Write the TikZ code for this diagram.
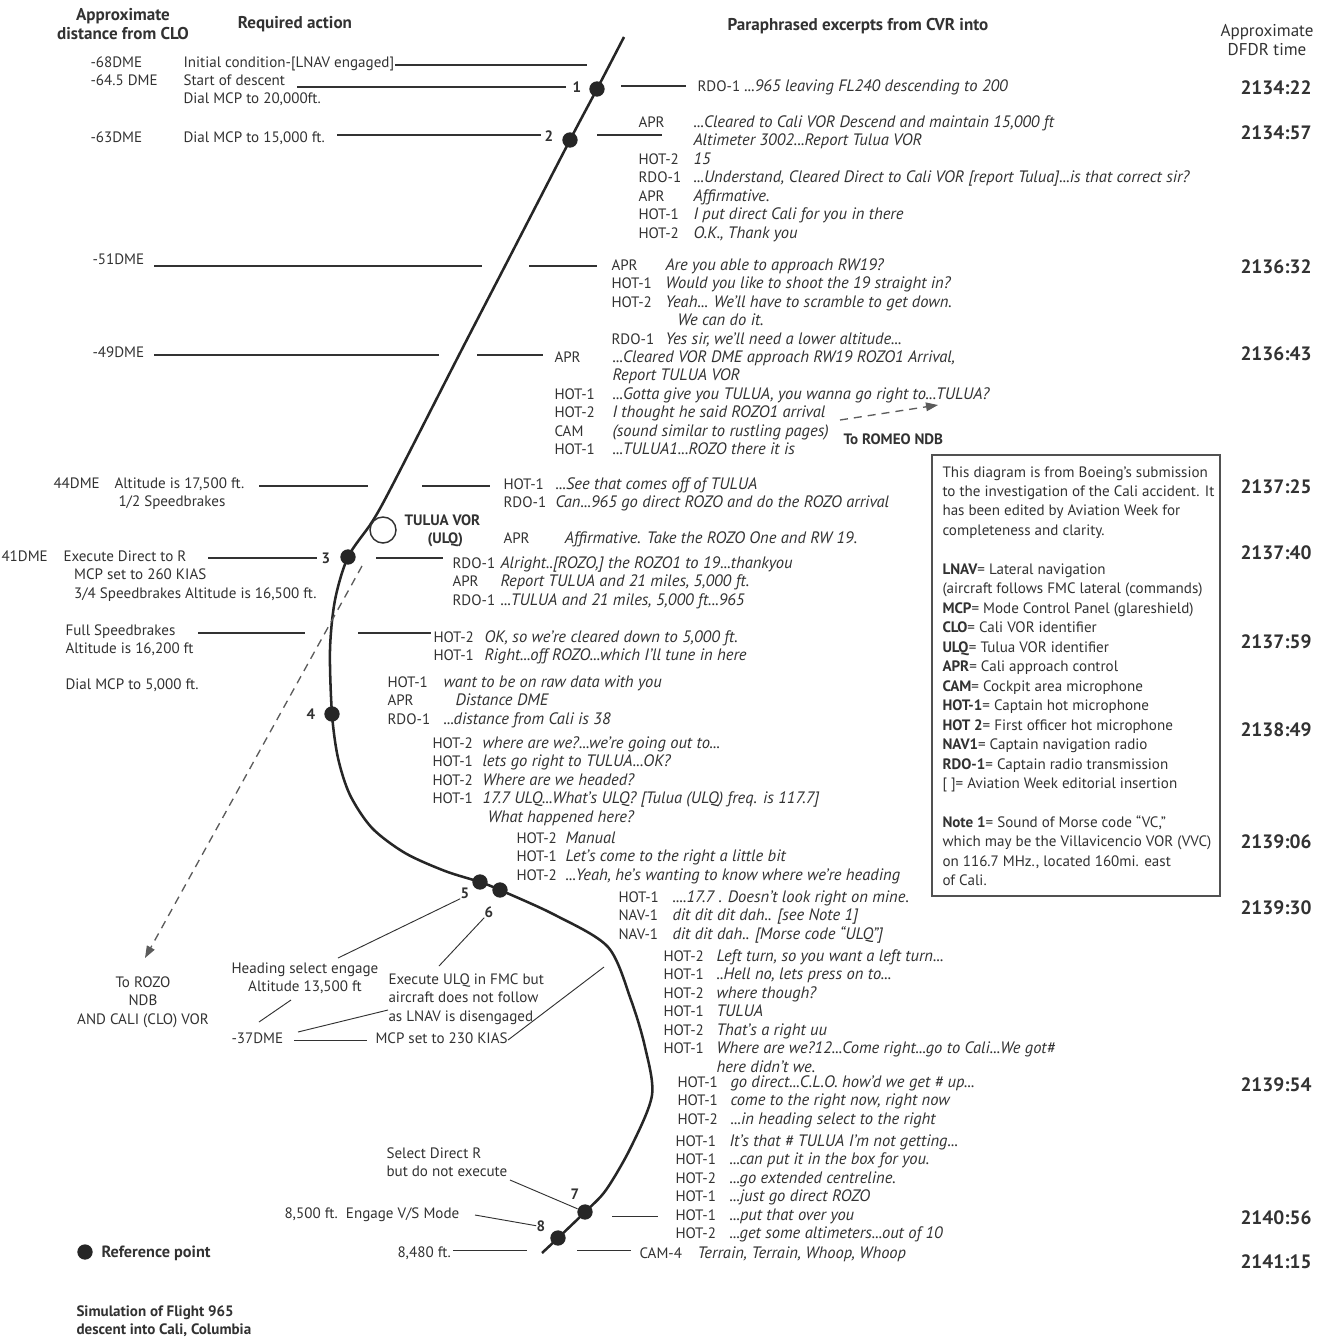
\documentclass[tikz,border=0pt]{standalone}
\usepackage{fontspec}
\usepackage{array}
\setmainfont{PT Sans}
\usetikzlibrary{arrows.meta}

\definecolor{ink}{RGB}{50,50,50}
\newcommand{\txtsize}{\fontsize{11.3}{13.9}\selectfont}
\newcommand{\qsize}{\fontsize{12.4}{13.9}\selectfont}
\newcommand{\headsize}{\fontsize{12.8}{14.4}\selectfont}
\newcommand{\boxsize}{\fontsize{11.3}{14.6}\selectfont}
\newcommand{\timesize}{\fontsize{14.5}{16}\selectfont}
\newcommand{\cvrblock}[2]{\begin{tabular}[t]{@{}p{#1}@{}>{\qsize\itshape}l@{}}#2\end{tabular}}
\newcommand{\lines}[1]{\begin{tabular}[t]{@{}l@{}}#1\end{tabular}}
\newcommand{\clines}[1]{\begin{tabular}[t]{@{}c@{}}#1\end{tabular}}

\tikzset{every picture/.style={line width=0.75pt}}

\begin{document}
\begin{tikzpicture}[x=0.75pt,y=0.75pt,yscale=-1,xscale=1,
  txt/.style={anchor=base west, inner sep=0pt, text=ink, font=\txtsize},
  ctxt/.style={anchor=base, inner sep=0pt, text=ink, font=\txtsize},
  head/.style={anchor=base, inner sep=0pt, text=ink, font=\headsize\bfseries},
  tstamp/.style={anchor=base, inner sep=0pt, text=ink, font=\timesize\bfseries},
  ptnum/.style={anchor=base, inner sep=0pt, text=ink, font=\txtsize\bfseries},
  lead/.style={draw=ink, line width=1.3pt},
  thin/.style={draw=ink, line width=0.7pt},
  flightpath/.style={draw=black!85, line width=1.9pt},
  refdot/.style={circle, fill=black!85, inner sep=0pt, minimum size=11.5pt},
  toward/.style={draw=ink!80, line width=1pt, dash pattern={on 6pt off 4.5pt}, -{Triangle[length=9pt,width=6.5pt]}},
]
\useasboundingbox (0,0) rectangle (1330,1339);

% headings
\node[head] (hdist) at (123,20) {\clines{Approximate\\distance from CLO}};
\node[head] (hact) at (295,28) {Required action};
\node[head] (hcvr) at (858,30) {Paraphrased excerpts from CVR into};
\node[ctxt, font=\headsize] (hdfdr) at (1267,36) {\clines{Approximate\\DFDR time}};

% flight path and reference points
\coordinate (top) at (624,37);
\coordinate (p1) at (597,89);
\coordinate (p2) at (570,140);
\coordinate (p3) at (348,557);
\coordinate (p4) at (332,714);
\coordinate (p5) at (480,882);
\coordinate (p6) at (500,890);
\coordinate (p7) at (585,1212);
\coordinate (p8) at (558,1238);
\coordinate (bottom) at (542,1253);
\draw[flightpath] plot[smooth, tension=0.5] coordinates {(top) (p1) (p2) (505,266) (459,355) (392,486) (372,522) (p3) (335,600) (330,650) (p4) (338,758) (350,795) (372,828) (405,853) (445,871) (p5) (p6) (555,915) (608,947) (631,1000) (645,1047) (652,1095) (631,1147) (606,1190) (p7) (p8) (bottom)};
\foreach \i in {1,...,8}
  \node[refdot] (dot\i) at (p\i) {};

% point numbers
\node[ptnum] (n1) at (577,92) {1};
\node[ptnum] (n2) at (549,141) {2};
\node[ptnum] (n3) at (326,563) {3};
\node[ptnum] (n4) at (311,719) {4};
\node[ptnum] (n5) at (465,898) {5};
\node[ptnum] (n6) at (489,917) {6};
\node[ptnum] (n7) at (575,1199) {7};
\node[ptnum] (n8) at (541,1231) {8};

% TULUA VOR
\node[circle, draw=ink, line width=1.1pt, minimum size=19.5pt, inner sep=0pt] (ulq) at (383,530) {};
\node[txt, font=\txtsize\bfseries] (ulqname) at (404,525) {TULUA VOR};
\node[txt, font=\txtsize\bfseries] (ulqid) at (427,543) {(ULQ)};

% leader lines
\foreach \nm/\xa/\xb/\y in {la/395/587/65, lb/297/566/87, lc/337/541/135, ld/154/482/266,
    le/529/597/266, lf/154/439/355, lg/477/543/355, lh/259/368/486, li/422/490/486,
    lj/208/317/558, lk/376/443/558, ll/198/305/633, lm/358/431/633, ln/621/686/86, lo/597/662/135}
  \draw[lead] (\xa,\y) coordinate (\nm a) -- (\xb,\y) coordinate (\nm b);
\foreach \nm/\xa/\xb/\y in {lp/612/658/1216, lq/577/631/1250, lr/453/527/1250, ls/294/367/1040}
  \draw[thin] (\xa,\y) coordinate (\nm a) -- (\xb,\y) coordinate (\nm b);

% required actions
\node[txt] (d68) at (90,67) {-68DME};
\node[txt] (a68) at (183,67) {Initial condition-[LNAV engaged]};
\node[txt] (d645) at (90,85) {-64.5 DME};
\node[txt] (a645) at (183,85) {\lines{Start of descent\\Dial MCP to 20,000ft.}};
\node[txt] (d63) at (90,142) {-63DME};
\node[txt] (a63) at (183,142) {Dial MCP to 15,000 ft.};
\node[txt] (d51) at (92,264) {-51DME};
\node[txt] (d49) at (92,357) {-49DME};
\node[txt] (d44) at (53,488) {44DME};
\node[txt] (a44) at (114,488) {\lines{Altitude is 17,500 ft.\\\hspace{3pt}1/2 Speedbrakes}};
\node[txt] (d41) at (1,561) {41DME};
\node[txt] (a41) at (63,561) {\lines{Execute Direct to R\\\hspace{8pt}MCP set to 260 KIAS\\\hspace{8pt}3/4 Speedbrakes Altitude is 16,500 ft.}};
\node[txt] (afull) at (65,635) {\lines{Full Speedbrakes\\Altitude is 16,200 ft}};
\node[txt] (a5000) at (65,689) {Dial MCP to 5,000 ft.};

% CVR excerpts
\node[txt] (cvrA) at (697,91) {RDO-1 {\qsize\itshape ...965 leaving FL240 descending to 200}};
\node[txt] (cvrB) at (638,127) {\cvrblock{41.25pt}{APR & ...Cleared to Cali VOR Descend and maintain 15,000 ft\\
  & Altimeter 3002...Report Tulua VOR\\
  HOT-2 & 15\\
  RDO-1 & ...Understand, Cleared Direct to Cali VOR [report Tulua]...is that correct sir?\\
  APR & Affirmative.\\
  HOT-1 & I put direct Cali for you in there\\
  HOT-2 & O.K., Thank you}};
\node[txt] (cvrC) at (611,270) {\cvrblock{40.5pt}{APR & Are you able to approach RW19?\\
  HOT-1 & Would you like to shoot the 19 straight in?\\
  HOT-2 & Yeah... We'll have to scramble to get down.\\
  & \hspace{9pt}We can do it.\\
  RDO-1 & Yes sir, we'll need a lower altitude...}};
\node[txt] (cvrD) at (554,362) {\cvrblock{43.5pt}{APR & ...Cleared VOR DME approach RW19 ROZO1 Arrival,\\
  & Report TULUA VOR\\
  HOT-1 & ...Gotta give you TULUA, you wanna go right to...TULUA?\\
  HOT-2 & I thought he said ROZO1 arrival\\
  CAM & (sound similar to rustling pages)\\
  HOT-1 & ...TULUA1...ROZO there it is}};
\node[txt] (cvrE) at (503,489) {\cvrblock{39pt}{HOT-1 & ...See that comes off of TULUA\\
  RDO-1 & Can...965 go direct ROZO and do the ROZO arrival}};
\node[txt] (cvrE2) at (503,543) {\cvrblock{39pt}{APR & \hspace{7pt}Affirmative. Take the ROZO One and RW 19.}};
\node[txt] (cvrF) at (452,568) {\cvrblock{36pt}{RDO-1 & Alright..[ROZO,] the ROZO1 to 19...thankyou\\
  APR & Report TULUA and 21 miles, 5,000 ft.\\
  RDO-1 & ...TULUA and 21 miles, 5,000 ft...965}};
\node[txt] (cvrG) at (433,642) {\cvrblock{38.25pt}{HOT-2 & OK, so we're cleared down to 5,000 ft.\\
  HOT-1 & Right...off ROZO...which I'll tune in here}};
\node[txt] (cvrH) at (387,687) {\cvrblock{42pt}{HOT-1 & want to be on raw data with you\\
  APR & \hspace{9pt}Distance DME\\
  RDO-1 & ...distance from Cali is 38}};
\node[txt] (cvrI) at (432,748) {\cvrblock{37.5pt}{HOT-2 & where are we?...we're going out to...\\
  HOT-1 & lets go right to TULUA...OK?\\
  HOT-2 & Where are we headed?\\
  HOT-1 & 17.7 ULQ...What's ULQ? [Tulua (ULQ) freq. is 117.7]\\
  & \hspace{4pt}What happened here?}};
\node[txt] (cvrJ) at (516,843) {\cvrblock{36.75pt}{HOT-2 & Manual\\
  HOT-1 & Let's come to the right a little bit\\
  HOT-2 & ...Yeah, he's wanting to know where we're heading}};
\node[txt] (cvrK) at (618,902) {\cvrblock{40.5pt}{HOT-1 & ....17.7 . Doesn't look right on mine.\\
  NAV-1 & dit dit dit dah.. [see Note 1]\\
  NAV-1 & dit dit dah.. [Morse code ``ULQ'']}};
\node[txt] (cvrL) at (663,961) {\cvrblock{39.75pt}{HOT-2 & Left turn, so you want a left turn...\\
  HOT-1 & ..Hell no, lets press on to...\\
  HOT-2 & where though?\\
  HOT-1 & TULUA\\
  HOT-2 & That's a right uu\\
  HOT-1 & Where are we?12...Come right...go to Cali...We got\#\\
  & here didn't we.}};
\node[txt] (cvrM) at (677,1087) {\cvrblock{39.75pt}{HOT-1 & go direct...C.L.O. how'd we get \# up...\\
  HOT-1 & come to the right now, right now\\
  HOT-2 & ...in heading select to the right}};
\node[txt] (cvrN) at (675,1146) {\cvrblock{40.5pt}{HOT-1 & It's that \# TULUA I'm not getting...\\
  HOT-1 & ...can put it in the box for you.\\
  HOT-2 & ...go extended centreline.\\
  HOT-1 & ...just go direct ROZO\\
  HOT-1 & ...put that over you\\
  HOT-2 & ...get some altimeters...out of 10}};
\node[txt] (cvrO) at (639,1258) {\cvrblock{43.5pt}{CAM-4 & Terrain, Terrain, Whoop, Whoop}};

% headings toward the beacons
\node[txt, font=\txtsize\bfseries] (romeo) at (843,444) {To ROMEO NDB};
\coordinate (romeotail) at (840,420);
\coordinate (romeotip) at (938,405);
\draw[toward] (romeotail) -- (romeotip);
\coordinate (rozotail) at (362,566);
\coordinate (rozotip) at (145,958);
\draw[toward] (rozotail) -- (rozotip);
\node[ctxt] (rozo) at (143,987) {\clines{To ROZO\\NDB\\AND CALI (CLO) VOR}};

% lower actions
\node[ctxt] (hdg) at (305,973) {\clines{Heading select engage\\Altitude 13,500 ft}};
\node[txt] (fmc) at (388,984) {\lines{Execute ULQ in FMC but\\aircraft does not follow\\as LNAV is disengaged}};
\node[txt] (d37) at (231,1043) {-37DME};
\node[txt] (mcp230) at (375,1043) {MCP set to 230 KIAS};
\node[txt] (seldir) at (386,1158) {\lines{Select Direct R\\but do not execute}};
\node[txt] (vs) at (284,1218) {8,500 ft.\ \ Engage V/S Mode};
\node[txt] (a8480) at (397,1257) {8,480 ft.};
\draw[thin] (338,958) -- (n5.south west);
\draw[thin] (439,966) -- (n6.south west);
\draw[thin] (259,1022) -- (291,1000);
\draw[thin] (298,1032) -- (388,1010);
\draw[thin] (508,1040) -- (604,967);
\draw[thin] (510,1180) -- (dot7);
\draw[thin] (475,1215) -- (n8.west);

% DFDR times
\foreach \t/\y in {2134:22/88, 2134:57/133, 2136:32/267, 2136:43/354, 2137:25/487, 2137:40/553,
    2137:59/642, 2138:49/730, 2139:06/842, 2139:30/908, 2139:54/1085, 2140:56/1218, 2141:15/1262}
  \node[tstamp] (t\y) at (1276,\y+6) {\t};

% abbreviations box
\draw[draw=ink!85, line width=1.1pt] (932,455) rectangle (1220,896);
\node[txt, font=\boxsize] (notes) at (942,477) {\lines{This diagram is from Boeing's submission\\
  to the investigation of the Cali accident. It\\
  has been edited by Aviation Week for\\
  completeness and clarity.\\
  \\
  \textbf{LNAV}= Lateral navigation\\
  (aircraft follows FMC lateral (commands)\\
  \textbf{MCP}= Mode Control Panel (glareshield)\\
  \textbf{CLO}= Cali VOR identifier\\
  \textbf{ULQ}= Tulua VOR identifier\\
  \textbf{APR}= Cali approach control\\
  \textbf{CAM}= Cockpit area microphone\\
  \textbf{HOT-1}= Captain hot microphone\\
  \textbf{HOT 2}= First officer hot microphone\\
  \textbf{NAV1}= Captain navigation radio\\
  \textbf{RDO-1}= Captain radio transmission\\
  {[ ]}= Aviation Week editorial insertion\\
  \\
  \textbf{Note 1}= Sound of Morse code ``VC,''\\
  which may be the Villavicencio VOR (VVC)\\
  on 116.7 MHz., located 160mi. east\\
  of Cali.}};

% legend and title
\node[refdot] (keydot) at (85,1252) {};
\node[txt, font=\fontsize{12.2}{14}\selectfont\bfseries] (keytxt) at (101,1257) {Reference point};
\node[txt, font=\txtsize\bfseries] (title) at (76,1316) {\lines{Simulation of Flight 965\\descent into Cali, Columbia}};

\end{tikzpicture}
\end{document}
